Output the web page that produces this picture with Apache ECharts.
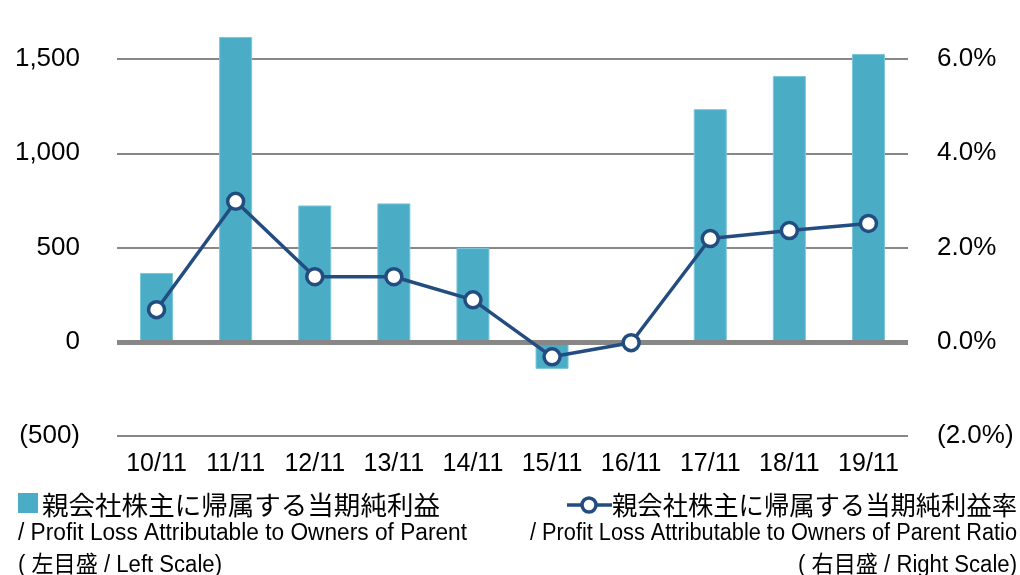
<!DOCTYPE html>
<html>
<head>
<meta charset="utf-8">
<script src="https://cdn.jsdelivr.net/npm/echarts@6/dist/echarts.min.js"></script>
<style>
  html, body { margin: 0; padding: 0; background: #fff; }
  #chart { width: 1020px; height: 575px; }
</style>
</head>
<body>
<div id="chart"></div>
<script>
// 年度ラベル
var years = ['10/11', '11/11', '12/11', '13/11', '14/11', '15/11', '16/11', '17/11', '18/11', '19/11'];
// 親会社株主に帰属する当期純利益（左目盛）
var profit = [365, 1617, 723, 734, 497, -144, 0, 1234, 1410, 1527];
// 利益率 %（右目盛）
var ratio = [0.68, 2.98, 1.38, 1.38, 0.89, -0.32, -0.02, 2.19, 2.36, 2.51];

var barColor = '#4bacc6';
var lineColor = '#234c80';
var gridColor = '#878787';
var latin = "'Liberation Sans', 'Noto Sans CJK JP', sans-serif";
var cjk = "'Noto Sans CJK JP', sans-serif";
var axisFont = 'Liberation Sans, Arial';

// 凡例の英文は細めの書体なので、幅に合わせて横方向に詰める
var ctx = document.createElement('canvas').getContext('2d');
function squeeze(text, font, width) {
  ctx.font = font;
  return width / ctx.measureText(text).width;
}

function legendText(text, x, y, font, width, align) {
  return {
    type: 'text', x: x, y: y,
    scaleX: squeeze(text, font, width),
    style: { text: text, fill: '#000', font: font, align: align, verticalAlign: 'middle' }
  };
}

var enFont = '23px ' + latin;

var chart = echarts.init(document.getElementById('chart'));

chart.setOption({
  animation: false,
  grid: { left: 117, right: 112, top: 59, bottom: 139 },
  xAxis: {
    type: 'category',
    data: years,
    axisLine: { show: false },
    axisTick: { show: false },
    axisLabel: { color: '#000', fontSize: 25, fontFamily: axisFont, margin: 16, interval: 0 }
  },
  yAxis: [
    {
      type: 'value', min: -500, max: 1500, interval: 500,
      axisLine: { show: false }, axisTick: { show: false },
      splitLine: { lineStyle: { color: gridColor, width: 2 } },
      axisLabel: {
        color: '#000', fontSize: 26, fontFamily: axisFont, margin: 37,
        formatter: function (v) {
          var s = Math.abs(v).toLocaleString('en-US');
          return v < 0 ? '(' + s + ')' : s;
        }
      }
    },
    {
      type: 'value', min: -2, max: 6, interval: 2,
      axisLine: { show: false }, axisTick: { show: false },
      splitLine: { show: false },
      axisLabel: {
        color: '#000', fontSize: 26, fontFamily: axisFont, margin: 29,
        formatter: function (v) {
          var s = Math.abs(v).toFixed(1) + '%';
          return v < 0 ? '(' + s + ')' : s;
        }
      }
    }
  ],
  series: [
    {
      name: '親会社株主に帰属する当期純利益',
      type: 'bar',
      data: profit,
      barWidth: 33,
      clip: false,
      itemStyle: { color: barColor, borderColor: '#7cc6da', borderWidth: 1 },
      markLine: {
        silent: true,
        symbol: 'none',
        label: { show: false },
        lineStyle: { color: gridColor, width: 5, type: 'solid' },
        data: [{ yAxis: 0 }]
      }
    },
    {
      name: '親会社株主に帰属する当期純利益率',
      type: 'line',
      yAxisIndex: 1,
      data: ratio,
      symbol: 'circle',
      symbolSize: 16,
      z: 5,
      lineStyle: { color: lineColor, width: 3.5 },
      itemStyle: { color: '#fff', borderColor: lineColor, borderWidth: 3.5 }
    }
  ],
  graphic: [
    // 左の凡例
    { type: 'rect', shape: { x: 18, y: 493, width: 20, height: 20 }, style: { fill: barColor } },
    legendText('親会社株主に帰属する当期純利益', 42, 505, '26px ' + cjk, 398, 'left'),
    legendText('/ Profit Loss Attributable to Owners of Parent', 18, 534, enFont, 449, 'left'),
    legendText('( 左目盛 / Left Scale)', 18, 566, enFont, 204, 'left'),
    // 右の凡例
    { type: 'line', shape: { x1: 567, y1: 505, x2: 612, y2: 505 }, style: { stroke: lineColor, lineWidth: 3.5 } },
    { type: 'circle', shape: { cx: 589, cy: 505, r: 7 }, style: { fill: '#fff', stroke: lineColor, lineWidth: 3.5 } },
    legendText('親会社株主に帰属する当期純利益率', 1017, 505, '26px ' + cjk, 405, 'right'),
    legendText('/ Profit Loss Attributable to Owners of Parent Ratio', 1017, 534, enFont, 487, 'right'),
    legendText('( 右目盛 / Right Scale)', 1017, 566, enFont, 219, 'right')
  ]
});
</script>
</body>
</html>
